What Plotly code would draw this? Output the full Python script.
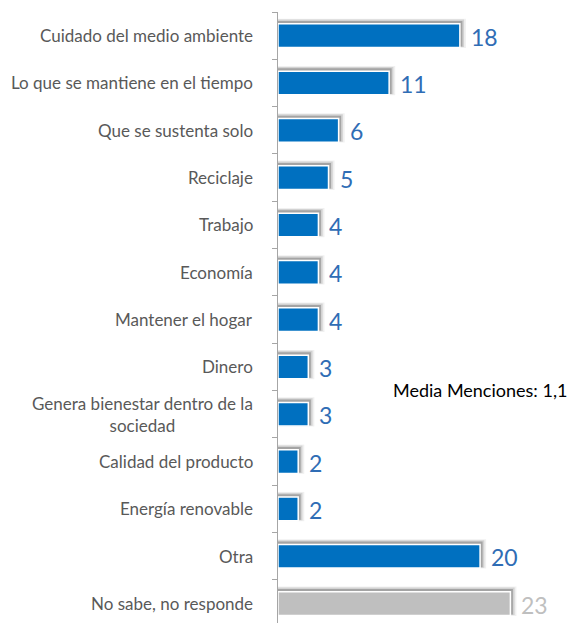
import plotly.graph_objects as go

categories = ["Cuidado del medio ambiente", "Lo que se mantiene en el tiempo", "Que se sustenta solo",
              "Reciclaje", "Trabajo", "Economía", "Mantener el hogar", "Dinero",
              "Genera bienestar dentro de la<br>sociedad", "Calidad del producto", "Energía renovable",
              "Otra", "No sabe, no responde"]
values = [18, 11, 6, 5, 4, 4, 4, 3, 3, 2, 2, 20, 23]
bar_colors = ["#0070C0"] * 12 + ["#BFBFBF"]
label_colors = ["#2F6DB5"] * 12 + ["#BFBFBF"]
note_text = "Media Menciones: 1,1"

FONT = "Lato"
W, H = 569, 623
fig = go.Figure()

# soft shadows (offset up-right)
for dx, off, wd, alpha in [(0.6, -0.36, 0.62, 0.06), (0.42, -0.34, 0.58, 0.12), (0.25, -0.31, 0.54, 0.22)]:
    fig.add_trace(go.Bar(
        y=categories, x=[v + dx for v in values], orientation="h",
        offset=off, width=wd,
        marker=dict(color=f"rgba(0,0,0,{alpha})", line=dict(width=0)),
        hoverinfo="skip", showlegend=False))

fig.add_trace(go.Bar(
    y=categories, x=values, orientation="h", offset=-0.25, width=0.5,
    marker=dict(color=bar_colors, line=dict(color="white", width=1.5)),
    showlegend=False))

for c, v, col in zip(categories, values, label_colors):
    fig.add_annotation(x=v, y=c, text=str(v), xanchor="left", xshift=9, yshift=-1,
                       showarrow=False, font=dict(family=FONT, size=23, color=col))
    fig.add_annotation(x=0, y=c, xref="x", text=c, xanchor="right", xshift=-23, align="center",
                       showarrow=False, font=dict(family=FONT, size=17, color="#595959"))

fig.add_annotation(x=(391 - 278) / 291, y=1 - (390 - 12) / 611, xref="paper", yref="paper",
                   text=note_text, showarrow=False,
                   font=dict(family=FONT, size=18, color="black"),
                   xanchor="left", yanchor="middle")

fig.update_layout(
    width=W, height=H, barmode="overlay",
    margin=dict(l=278, r=0, t=12, b=0),
    plot_bgcolor="white", paper_bgcolor="white",
    xaxis=dict(range=[0, 28.8], visible=False, showgrid=False),
    yaxis=dict(range=[12.41, -0.5], showticklabels=False, showgrid=False,
               showline=True, linecolor="#A6A6A6", linewidth=1,
               ticks="outside", ticklen=5, tickcolor="#A6A6A6", tickson="boundaries"),
)
fig.write_html("out.html", config={"displayModeBar": False},
               post_script="document.body.style.margin='0';document.body.style.overflow='hidden';")
